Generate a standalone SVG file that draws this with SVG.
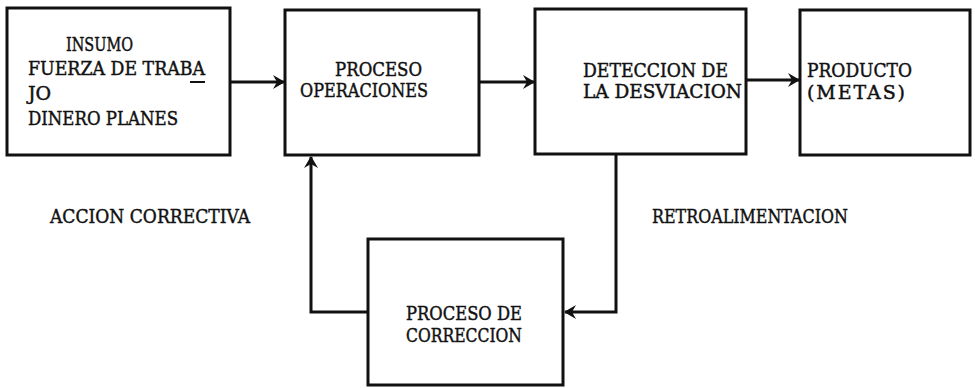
<svg xmlns="http://www.w3.org/2000/svg" width="975" height="388" viewBox="0 0 975 388">
  <style>
    .box { fill: #fff; stroke: #111; stroke-width: 3; }
    .link { fill: none; stroke: #111; stroke-width: 3; stroke-linejoin: miter; }
    text { font-family: "DejaVu Serif", "Liberation Serif", serif; font-size: 19px; fill: #111; stroke: #111; stroke-width: 0.45; }
  </style>
  <defs>
    <marker id="arrow" viewBox="0 0 12 14" refX="11" refY="7" markerWidth="12" markerHeight="14" markerUnits="userSpaceOnUse" orient="auto">
      <path d="M0,0 L12,7 L0,14 L4,7 Z" fill="#111"/>
    </marker>
  </defs>
  <rect width="975" height="388" fill="#fff"/>

  <g id="connectors">
    <line class="link" x1="230" y1="82" x2="284" y2="82" marker-end="url(#arrow)"/>
    <line class="link" x1="479" y1="82" x2="534" y2="82" marker-end="url(#arrow)"/>
    <line class="link" x1="746" y1="80" x2="799" y2="80" marker-end="url(#arrow)"/>
    <polyline class="link" points="616,154 616,312 565,312" marker-end="url(#arrow)"/>
    <polyline class="link" points="368,312 311,312 311,157" marker-end="url(#arrow)"/>
  </g>

  <g id="insumo">
    <rect class="box" x="7" y="8" width="223" height="147"/>
    <text x="66" y="51" textLength="67" lengthAdjust="spacingAndGlyphs">INSUMO</text>
    <text x="28" y="75" textLength="177" lengthAdjust="spacingAndGlyphs">FUERZA DE TRABA</text>
    <line x1="190" y1="82" x2="205" y2="82" stroke="#111" stroke-width="2"/>
    <text x="28" y="100">JO</text>
    <text x="28" y="125" textLength="150" lengthAdjust="spacingAndGlyphs">DINERO PLANES</text>
  </g>

  <g id="proceso">
    <rect class="box" x="285" y="10" width="194" height="145"/>
    <text x="335" y="76" textLength="87" lengthAdjust="spacingAndGlyphs">PROCESO</text>
    <text x="300" y="97" textLength="128" lengthAdjust="spacingAndGlyphs">OPERACIONES</text>
  </g>

  <g id="deteccion">
    <rect class="box" x="535" y="9" width="211" height="145"/>
    <text x="583" y="77" textLength="145" lengthAdjust="spacingAndGlyphs">DETECCION DE</text>
    <text x="583" y="98" textLength="159" lengthAdjust="spacingAndGlyphs">LA DESVIACION</text>
  </g>

  <g id="producto">
    <rect class="box" x="800" y="10" width="170" height="145"/>
    <text x="807" y="77" textLength="105" lengthAdjust="spacingAndGlyphs">PRODUCTO</text>
    <text x="807" y="99" textLength="98" lengthAdjust="spacing">(METAS)</text>
  </g>

  <g id="correccion">
    <rect class="box" x="368" y="239" width="195" height="146"/>
    <text x="406" y="320" textLength="116" lengthAdjust="spacingAndGlyphs">PROCESO DE</text>
    <text x="406" y="342" textLength="116" lengthAdjust="spacingAndGlyphs">CORRECCION</text>
  </g>

  <g id="labels">
    <text x="50" y="223" textLength="200" lengthAdjust="spacingAndGlyphs">ACCION CORRECTIVA</text>
    <text x="652" y="223" textLength="196" lengthAdjust="spacingAndGlyphs">RETROALIMENTACION</text>
  </g>
</svg>
